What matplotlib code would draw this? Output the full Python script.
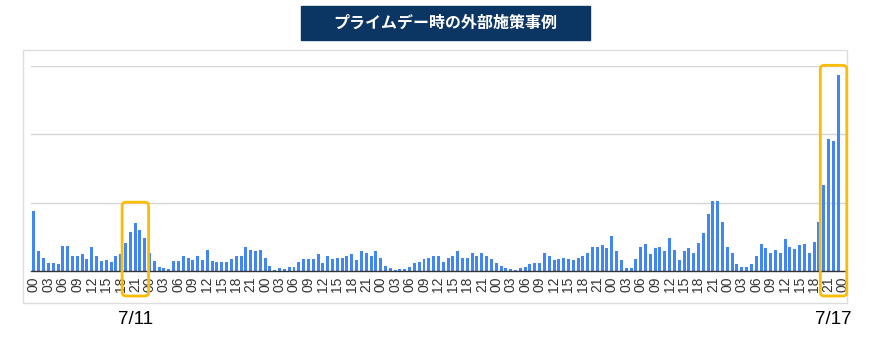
import matplotlib.pyplot as plt
from matplotlib.patches import FancyBboxPatch, Rectangle
from matplotlib.transforms import IdentityTransform

plt.rcParams['font.family'] = ['Liberation Sans', 'DejaVu Sans']

# hourly values, 7/10 00:00 .. 7/17 00:00 (gridline = 100)
d0710 = [88, 29, 20, 12, 12, 11, 37, 37, 22, 22, 25, 18, 35, 23, 15, 16, 13, 22, 26, 42, 58, 70, 60, 48]
d0711 = [27, 15, 7, 5, 3.5, 15, 15, 22, 20, 16, 23, 16, 31, 15, 13, 13, 13, 18, 22, 22, 35, 31, 29, 31]
d0712 = [20, 8, 2, 5, 3.5, 7, 7, 14, 18, 18, 18, 25, 12, 23, 18, 20, 20, 22, 25, 16, 29, 27, 22, 29]
d0713 = [20, 8, 5, 2, 3.5, 3.5, 7, 12, 14, 18, 20, 23, 23, 14, 20, 22, 29, 20, 20, 27, 23, 27, 22, 18]
d0714 = [12, 8, 5, 3.5, 2, 5, 7, 11, 12, 12, 27, 22, 16, 18, 20, 18, 16, 20, 23, 27, 36, 36, 38, 34]
d0715 = [51, 29, 16, 5, 5, 18, 36, 40, 25, 34, 36, 29, 49, 31, 16, 29, 34, 27, 42, 56, 84, 103, 103, 72]
d0716 = [36, 27, 10, 7, 7, 10, 22, 40, 34, 27, 31, 27, 47, 36, 33, 38, 40, 27, 43, 72, 126, 194, 190, 287]
d0717 = [0]

hour_labels = ["00", "03", "06", "09", "12", "15", "18", "21"]
n_days = 7

# highlighted ranges: (first bar, last bar, date label)
highlights = [(19, 23, "7/11"), (164, 168, "7/17")]
box_tops = [101, 301]

title = "プライムデー時の外部施策事例"

values = d0710 + d0711 + d0712 + d0713 + d0714 + d0715 + d0716 + d0717
x = list(range(len(values)))

W, H = 878, 345
fig = plt.figure(figsize=(W / 100, H / 100), dpi=100)
fig.patch.set_facecolor("white")

# outer light frame
fig.add_artist(Rectangle((23, H - 302.7), 824, 252.7, transform=IdentityTransform(),
                         fill=False, edgecolor="#dcdcdc", linewidth=1))

ax = fig.add_axes([31 / W, (H - 271.3) / H, (846 - 31) / W, (271.3 - 66) / H])
ax.bar(x, values, width=0.62, color="#4285f4", zorder=3)
ax.set_xlim(-0.62, 168.64)
ax.set_ylim(0, 300)

ax.set_yticks([100, 200, 300])
ax.set_yticklabels([])
ax.tick_params(axis="y", length=0)
ax.grid(axis="y", color="#d6d6d6", linewidth=1, zorder=0)

ticks = list(range(0, len(values), 3))
labels = (hour_labels * n_days + ["00"])[:len(ticks)]
ax.set_xticks(ticks)
ax.set_xticklabels(labels, rotation=90, fontsize=10, color="#333333")
ax.tick_params(axis="x", length=0, pad=4)

for s in ["top", "right", "left"]:
    ax.spines[s].set_visible(False)
ax.spines["bottom"].set_color("#333333")
ax.spines["bottom"].set_linewidth(1)
ax.spines["bottom"].set_zorder(4)

# highlight boxes and date labels (pixel coords so corners stay round)
fig.canvas.draw()
for (i0, i1, date), top in zip(highlights, box_tops):
    px0, py_top = ax.transData.transform((i0 - 0.7, top))
    px1, py_base = ax.transData.transform((i1 + 0.8, 0))
    py_bot = py_base - 24.7
    box = FancyBboxPatch((px0, py_bot), px1 - px0, py_top - py_bot,
                         boxstyle="round,pad=0,rounding_size=4",
                         transform=IdentityTransform(), fill=False,
                         edgecolor="#fbbc04", linewidth=2, zorder=10)
    fig.add_artist(box)
    fig.text((px0 + px1) / 2 / W, (H - 320) / H, date, ha="center", va="center",
             fontsize=13.5, color="black")

# title banner
fig.add_artist(Rectangle((301, H - 39.5), 289, 33.5, transform=IdentityTransform(),
                         facecolor="#0b3562", edgecolor="#0b3562"))
fig.text(445.5 / W, (H - 22.5) / H, title, ha="center", va="center", color="white",
         fontsize=11.5, fontweight="bold", family=["Noto Sans CJK JP", "DejaVu Sans"])

fig.savefig("out.png", dpi=100)
